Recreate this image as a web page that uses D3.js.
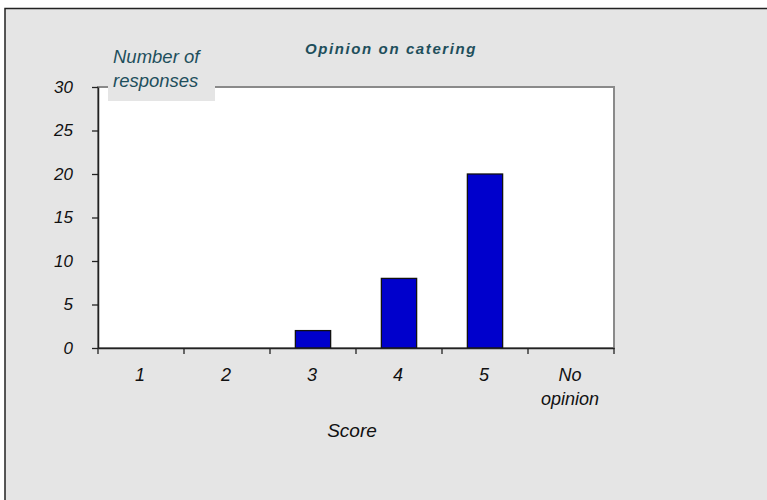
<!DOCTYPE html>
<html>
<head>
<meta charset="utf-8">
<script src="https://cdn.jsdelivr.net/npm/d3@7"></script>
<style>
  body { margin: 0; background: #fff; }
  svg { display: block; font-family: "Liberation Sans", Arial, sans-serif; }
</style>
</head>
<body>
<svg width="767" height="500"></svg>
<script>
// chart data
var categories = ["1", "2", "3", "4", "5", "No opinion"];
var responses = [0, 0, 2, 8, 20, 0];
var yTicks = [0, 5, 10, 15, 20, 25, 30];

var svg = d3.select("svg");

// outer chart frame
svg.append("rect")
    .attr("x", 5).attr("y", 8.5)
    .attr("width", 770).attr("height", 500)
    .attr("fill", "#e5e5e5")
    .attr("stroke", "#222")
    .attr("stroke-width", 1.5);

var plotL = 98, plotR = 614, plotT = 87, plotB = 348;

var x = d3.scaleBand()
    .domain(categories)
    .range([plotL, plotR]);

var y = d3.scaleLinear()
    .domain([0, 30])
    .range([plotB, plotT]);

// plot area
svg.append("rect")
    .attr("x", plotL).attr("y", plotT)
    .attr("width", plotR - plotL).attr("height", plotB - plotT)
    .attr("fill", "#fff")
    .attr("stroke", "#8a8a8a")
    .attr("stroke-width", 2);

// bars
svg.append("g")
  .selectAll("rect")
  .data(responses.map(function(v, i) { return {c: categories[i], v: v}; }).filter(function(d) { return d.v > 0; }))
  .enter().append("rect")
    .attr("x", function(d) { return x(d.c) + x.bandwidth() * 0.295; })
    .attr("width", x.bandwidth() * 0.41)
    .attr("y", function(d) { return y(d.v); })
    .attr("height", function(d) { return y(0) - y(d.v); })
    .attr("fill", "#0000cc")
    .attr("stroke", "#111")
    .attr("stroke-width", 1.3);

// y axis
var yAxis = svg.append("g")
    .attr("transform", "translate(" + plotL + ",0)")
    .call(d3.axisLeft(y).tickValues(yTicks).tickSize(6).tickSizeOuter(0).tickPadding(19));
yAxis.select(".domain").attr("stroke", "#222").attr("stroke-width", 1.5);
yAxis.selectAll(".tick line").attr("stroke", "#222").attr("stroke-width", 1.3);
yAxis.selectAll("text")
    .attr("font-size", 17).attr("font-style", "italic").attr("fill", "#111")
    .attr("font-family", "Liberation Sans, Arial, sans-serif");

// x axis
var xAxis = svg.append("g")
    .attr("transform", "translate(0," + plotB + ")")
    .call(d3.axisBottom(x).tickSize(0).tickFormat(""));
xAxis.select(".domain").attr("stroke", "#222").attr("stroke-width", 1.5);

// category boundary ticks
var bounds = categories.map(function(c) { return x(c); }).concat([plotR]);
svg.append("g").selectAll("line")
  .data(bounds)
  .enter().append("line")
    .attr("x1", function(d) { return d; }).attr("x2", function(d) { return d; })
    .attr("y1", plotB).attr("y2", plotB + 6)
    .attr("stroke", "#222").attr("stroke-width", 1.3);

// category labels
svg.append("g").selectAll("text")
  .data(categories)
  .enter().append("text")
    .attr("y", 381)
    .attr("text-anchor", "middle")
    .attr("font-size", 18).attr("font-style", "italic").attr("fill", "#111")
    .each(function(d) {
      var t = d3.select(this);
      d.split(" ").forEach(function(w, i) {
        t.append("tspan").attr("x", x(d) + x.bandwidth() / 2 - 1).attr("dy", i ? 24 : 0).text(w);
      });
    });

// y title with its grey backing box
svg.append("rect")
    .attr("x", 108).attr("y", 40)
    .attr("width", 107).attr("height", 61)
    .attr("fill", "#e5e5e5");
var yt = svg.append("text")
    .attr("font-size", 18.5).attr("font-style", "italic").attr("fill", "#1e4f5c");
yt.append("tspan").attr("x", 113).attr("y", 63).text("Number of");
yt.append("tspan").attr("x", 113).attr("y", 87).text("responses");

// title
svg.append("text")
    .attr("x", 305).attr("y", 54)
    .attr("font-size", 15).attr("font-weight", "bold").attr("font-style", "italic")
    .attr("letter-spacing", 1.6).attr("fill", "#1e4f5c")
    .text("Opinion on catering");

// x title
svg.append("text")
    .attr("x", 352).attr("y", 437)
    .attr("text-anchor", "middle")
    .attr("font-size", 19).attr("font-style", "italic").attr("fill", "#111")
    .text("Score");
</script>
</body>
</html>
